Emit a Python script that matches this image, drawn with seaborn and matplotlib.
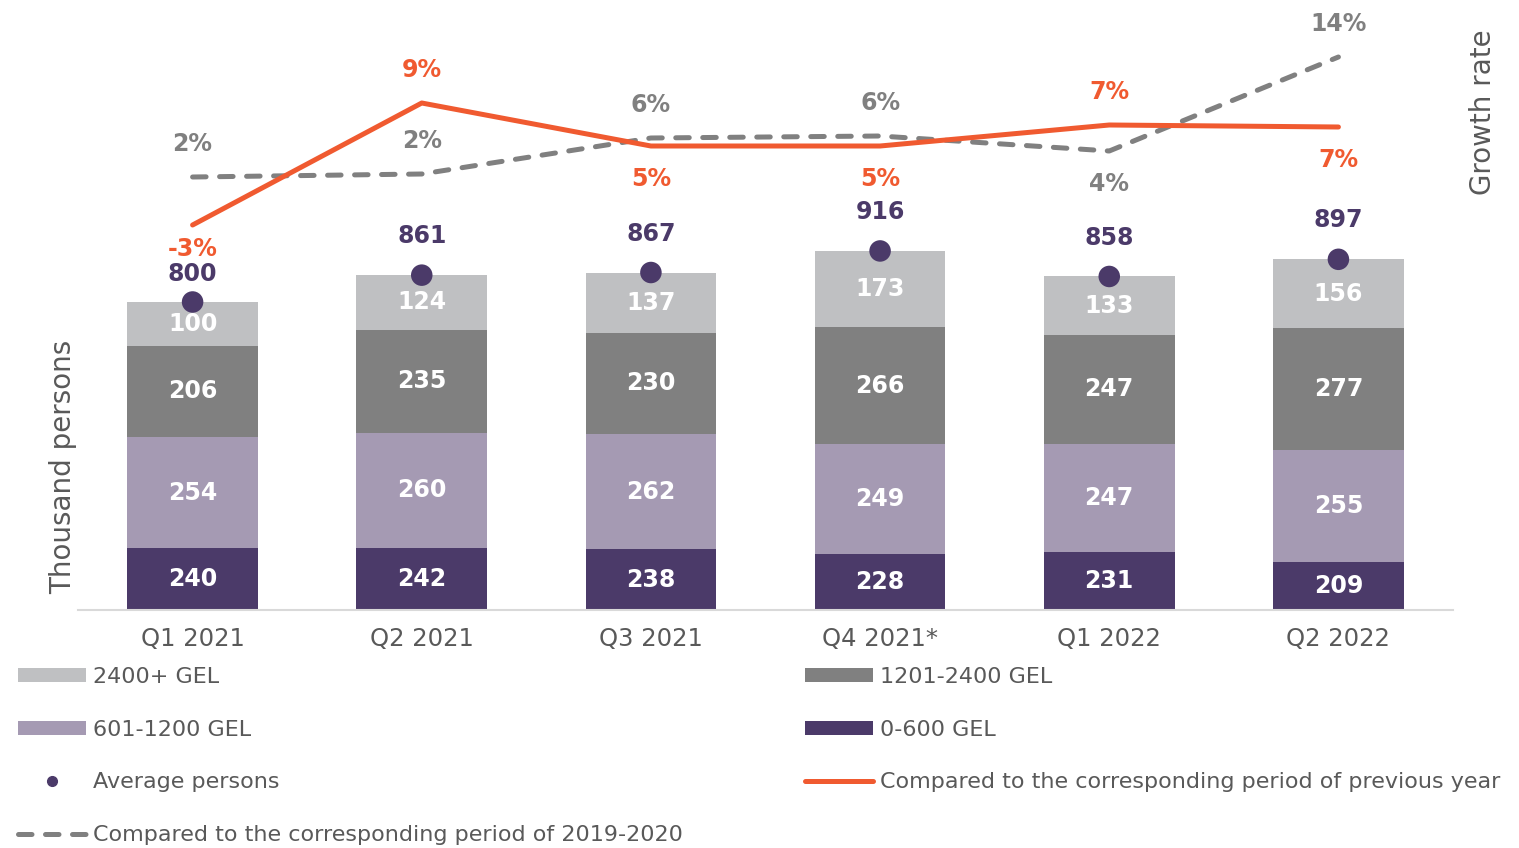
import matplotlib
matplotlib.use("Agg")
import matplotlib.pyplot as plt
from matplotlib.patches import Patch
from matplotlib.lines import Line2D
import seaborn as sns
import pandas as pd
import numpy as np

# ---------------- data ----------------
quarters = ["Q1 2021", "Q2 2021", "Q3 2021", "Q4 2021*", "Q1 2022", "Q2 2022"]
gel_0_600 = [240, 242, 238, 228, 231, 209]
gel_601_1200 = [254, 260, 262, 249, 247, 255]
gel_1201_2400 = [206, 235, 230, 266, 247, 277]
gel_2400_plus = [100, 124, 137, 173, 133, 156]
average_persons = [800, 861, 867, 916, 858, 897]
growth_prev_year = [-3.2, 9.0, 4.7, 4.7, 6.8, 6.6]
growth_2019_2020 = [1.6, 1.9, 5.5, 5.7, 4.2, 13.6]

# label placement (style, not data), offsets in points
prev_year_label_off = [-17, 24, -24, -24, 24, -24]
base_label_off = [24, 24, 24, 24, -24, 24]
avg_label_off = [20, 28, 28, 28, 28, 28]

# ---------------- style ----------------
C_DARK = "#4B3A69"
C_LPURP = "#A59AB3"
C_GRAY = "#808080"
C_LGRAY = "#BFC0C2"
C_ORANGE = "#F05A30"
C_TEXT = "#595959"

sns.set_theme(style="white")
plt.rcParams["font.family"] = ["DejaVu Sans"]

fig = plt.figure(figsize=(15.19, 8.48), dpi=100)
W, H = 1519, 848
ax = fig.add_axes([78 / W, 1 - 610 / H, (1453 - 78) / W, 600 / H])
Y_LO, Y_HI = 100, 1463.6

segments = [
    ("0-600 GEL", gel_0_600, C_DARK),
    ("601-1200 GEL", gel_601_1200, C_LPURP),
    ("1201-2400 GEL", gel_1201_2400, C_GRAY),
    ("2400+ GEL", gel_2400_plus, C_LGRAY),
]
cums = np.cumsum([s[1] for s in segments], axis=0)
# draw from the tallest cumulative down so they look stacked
for i in range(len(segments) - 1, -1, -1):
    df = pd.DataFrame({"q": quarters, "v": cums[i]})
    sns.barplot(data=df, x="q", y="v", color=segments[i][2], width=0.57,
                saturation=1, ax=ax, order=quarters, linewidth=0,
                edgecolor="none")

# segment labels
for i, (name, vals, col) in enumerate(segments):
    bottoms = cums[i] - np.array(vals)
    for x, (b, t) in enumerate(zip(bottoms, cums[i])):
        vb = max(b, Y_LO)
        ax.text(x, (vb + t) / 2, f"{vals[x]}", ha="center", va="center",
                color="white", fontsize=17, fontweight="bold")

# average persons dots
sns.scatterplot(x=np.arange(len(quarters)), y=average_persons, ax=ax, s=240,
                color=C_DARK, edgecolor="none", zorder=5)
for x, v in enumerate(average_persons):
    ax.annotate(f"{v}", (x, v), xytext=(0, avg_label_off[x]),
                textcoords="offset points", ha="center", va="center",
                color=C_DARK, fontsize=17, fontweight="bold")

ax.set_xlim(-0.5, len(quarters) - 0.5)
ax.set_ylim(Y_LO, Y_HI)
ax.set_xlabel("")
ax.set_ylabel("")
ax.set_yticks([])
ax.tick_params(axis="x", length=0, pad=12, labelsize=17.5, labelcolor=C_TEXT)
for s in ["top", "left", "right"]:
    ax.spines[s].set_visible(False)
ax.spines["bottom"].set_color("#D9D9D9")
ax.spines["bottom"].set_linewidth(1.5)

# secondary axis - growth rate
DASH = (2.7, 2.7)
ax2 = ax.twinx()
xs = np.arange(len(quarters))
ax2.plot(xs, growth_2019_2020, color=C_GRAY, lw=3.6, dashes=DASH,
         dash_capstyle="round", solid_capstyle="round", zorder=3)
ax2.plot(xs, growth_prev_year, color=C_ORANGE, lw=3.6,
         solid_capstyle="round", zorder=4)
ax2.set_ylim(-41.7, 18.3)
ax2.set_xlim(-0.5, len(quarters) - 0.5)
ax2.set_yticks([])
for s in ["top", "left", "right", "bottom"]:
    ax2.spines[s].set_visible(False)

for x, v in enumerate(growth_prev_year):
    ax2.annotate(f"{v:.0f}%", (x, v), xytext=(0, prev_year_label_off[x]),
                 textcoords="offset points", ha="center", va="center",
                 color=C_ORANGE, fontsize=17, fontweight="bold")
for x, v in enumerate(growth_2019_2020):
    ax2.annotate(f"{v:.0f}%", (x, v), xytext=(0, base_label_off[x]),
                 textcoords="offset points", ha="center", va="center",
                 color=C_GRAY, fontsize=17, fontweight="bold")

fig.text(63 / W, 1 - 467 / H, "Thousand persons", rotation=90, ha="center",
         va="center", fontsize=20, color=C_TEXT)
fig.text(1483 / W, 1 - 112 / H, "Growth rate", rotation=90, ha="center",
         va="center", fontsize=20, color=C_TEXT)

# legend
h_2400 = Patch(facecolor=C_LGRAY, edgecolor="none", label="2400+ GEL")
h_1201 = Patch(facecolor=C_GRAY, edgecolor="none", label="1201-2400 GEL")
h_601 = Patch(facecolor=C_LPURP, edgecolor="none", label="601-1200 GEL")
h_0 = Patch(facecolor=C_DARK, edgecolor="none", label="0-600 GEL")
h_avg = Line2D([], [], ls="none", marker="o", markersize=7, color=C_DARK,
               label="Average persons")
h_prev = Line2D([], [], color=C_ORANGE, lw=3.6, solid_capstyle="round",
                label="Compared to the corresponding period of previous year")
h_base = Line2D([], [], color=C_GRAY, lw=3.6, dashes=DASH,
                dash_capstyle="round",
                label="Compared to the corresponding period of 2019-2020")
handles = [h_2400, h_601, h_avg, h_base, h_1201, h_0, h_prev]
leg = fig.legend(handles=handles, ncol=2, loc="upper left",
                 bbox_to_anchor=(18 / W, 1 - 667 / H), frameon=False,
                 fontsize=16, handlelength=3.05, handleheight=0.55,
                 handletextpad=0.32, columnspacing=5.5, labelspacing=1.47,
                 borderpad=0, borderaxespad=0)
for t in leg.get_texts():
    t.set_color(C_TEXT)

fig.savefig("out.png", dpi=100)
